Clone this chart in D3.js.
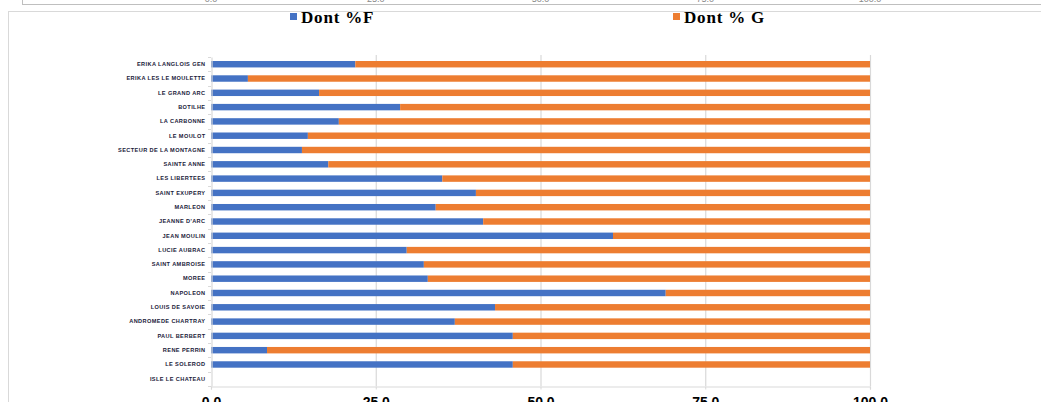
<!DOCTYPE html>
<html><head><meta charset="utf-8">
<script src="https://cdn.jsdelivr.net/npm/d3@7"></script>
<style>body{margin:0;background:#fff;overflow:hidden}svg{display:block}</style>
</head><body>
<svg id="c" width="1041" height="402"></svg>
<script>
const categories = ["ERIKA LANGLOIS GEN","ERIKA LES LE MOULETTE","LE GRAND ARC","BOTILHE","LA CARBONNE","LE MOULOT","SECTEUR DE LA MONTAGNE","SAINTE ANNE","LES LIBERTEES","SAINT EXUPERY","MARLEON","JEANNE D'ARC","JEAN MOULIN","LUCIE AUBRAC","SAINT AMBROISE","MOREE","NAPOLEON","LOUIS DE SAVOIE","ANDROMEDE CHARTRAY","PAUL BERBERT","RENE PERRIN","LE SOLEROD","ISLE LE CHATEAU"];
const dontF = [21.9,5.6,16.4,28.7,19.4,14.7,13.8,17.8,35.1,40.2,34.1,41.3,61.0,29.7,32.3,32.9,69.0,43.1,37.0,45.8,8.5,45.8,null];
const dontG = [78.1,94.4,83.6,71.3,80.6,85.3,86.2,82.2,64.9,59.8,65.9,58.7,39.0,70.3,67.7,67.1,31.0,56.9,63.0,54.2,91.5,54.2,null];
const seriesNames = ["Dont %F","Dont % G"];
const tickValues = [0,25,50,75,100];
const colors = ["#4472C4","#ED7D31"];

const svg = d3.select("#c");
const M = {left:211, right:870, top:57, bottom:386};
const x = d3.scaleLinear().domain([0,100]).range([M.left,M.right]);
const y = d3.scaleBand().domain(categories).range([M.top,M.bottom]).paddingInner(0.55).paddingOuter(0.28);

// remnants of the chart above (cut off at the top edge)
const topStrip = svg.append("g");
topStrip.append("line").attr("x1",22).attr("x2",1041).attr("y1",4.5).attr("y2",4.5).attr("stroke","#bfbfbf");
topStrip.append("line").attr("x1",22.5).attr("x2",22.5).attr("y1",0).attr("y2",4.5).attr("stroke","#bfbfbf");
topStrip.selectAll("text").data(tickValues).join("text")
  .attr("x",d=>x(d)).attr("y",1.5).attr("text-anchor","middle")
  .attr("font-family","Liberation Sans").attr("font-size",9).attr("fill","#888")
  .text(d=>d.toFixed(1));

// frame
svg.append("rect").attr("x",8.5).attr("y",11.5).attr("width",1040).attr("height",400).attr("fill","none").attr("stroke","#d9d9d9");

// legend
const lg = svg.append("g");
const lx = [290,673];
seriesNames.forEach((n,i)=>{
  lg.append("rect").attr("x",lx[i]).attr("y",13).attr("width",7).attr("height",7).attr("fill",colors[i]);
  lg.append("text").attr("x",lx[i]+11).attr("y",22.5).attr("font-family","Liberation Serif").attr("font-weight","bold").attr("font-size",17).attr("letter-spacing",0.8).attr("fill","#000").text(n);
});

// gridlines
svg.append("g").selectAll("line").data(tickValues.slice(1)).join("line")
  .attr("x1",d=>x(d)+0.5).attr("x2",d=>x(d)+0.5).attr("y1",M.top-2).attr("y2",M.bottom)
  .attr("stroke","#d9d9d9").attr("stroke-width",1.2);

// bars
const stack = categories.map((c,i)=>({c, f:dontF[i], g:dontG[i]}));
const g = svg.append("g");
g.selectAll(".f").data(stack.filter(d=>d.f!=null)).join("rect")
  .attr("x",x(0)).attr("y",d=>y(d.c)).attr("height",y.bandwidth())
  .attr("width",d=>x(d.f)-x(0)).attr("fill",colors[0]);
g.selectAll(".g").data(stack.filter(d=>d.g!=null)).join("rect")
  .attr("x",d=>x(d.f)).attr("y",d=>y(d.c)).attr("height",y.bandwidth())
  .attr("width",d=>x(d.f+d.g)-x(d.f)).attr("fill",colors[1]);

// y axis
const ya = svg.append("g").attr("transform",`translate(${M.left+0.5},0)`)
  .call(d3.axisLeft(y).tickSize(0).tickPadding(6));
ya.select(".domain").attr("stroke","#d9d9d9").attr("stroke-width",1.2);
ya.selectAll("text").attr("font-family","Liberation Sans").attr("font-weight","bold").attr("font-size",5.6).attr("fill","#1a1a3a").attr("letter-spacing",0.4);
const bounds = categories.map(c=>y(c)-y.step()*y.paddingInner()/2).concat([M.bottom]);
svg.append("g").selectAll("line").data(bounds).join("line")
  .attr("x1",M.left-3).attr("x2",M.left).attr("y1",d=>Math.round(d)+0.5).attr("y2",d=>Math.round(d)+0.5)
  .attr("stroke","#d9d9d9");

// x axis
const xa = svg.append("g").attr("transform",`translate(0,${M.bottom+0.5})`)
  .call(d3.axisBottom(x).tickValues(tickValues).tickSize(3).tickPadding(8).tickFormat(d=>d.toFixed(1)));
xa.select(".domain").attr("stroke","#d9d9d9").attr("stroke-width",1.2);
xa.selectAll(".tick line").attr("stroke","#d9d9d9");
xa.selectAll("text").attr("font-family","Liberation Sans").attr("font-weight","bold").attr("font-size",14).attr("fill","#000");
</script>
</body></html>
